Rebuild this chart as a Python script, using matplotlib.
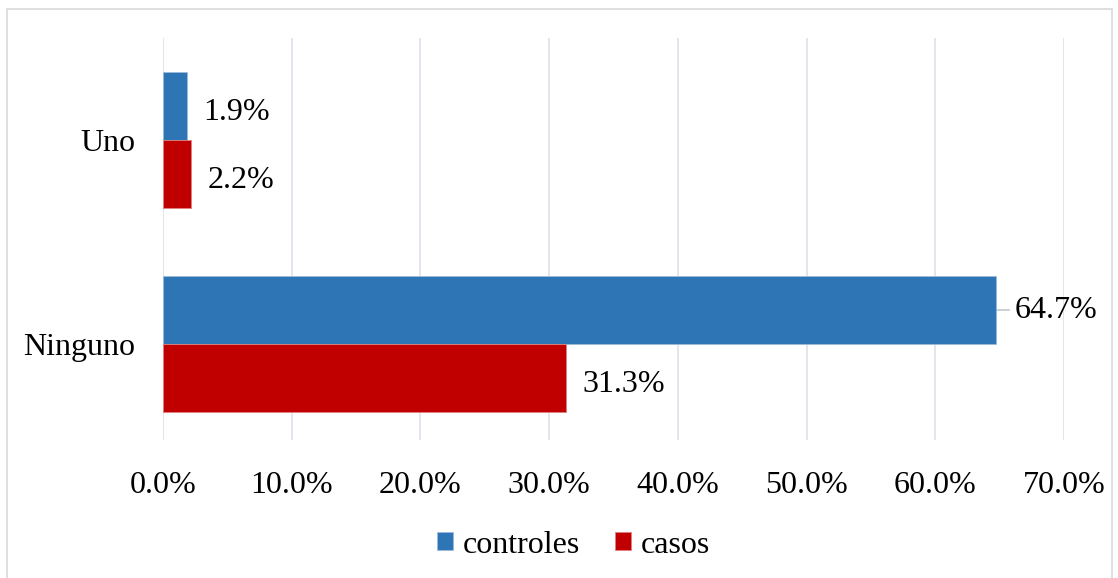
import matplotlib
matplotlib.use('Agg')
import matplotlib.pyplot as plt
from matplotlib.patches import Rectangle
import numpy as np

plt.rcParams['font.family'] = ['Liberation Serif', 'DejaVu Serif']

categorias = ['Ninguno', 'Uno']
controles = [64.7, 1.9]
casos = [31.3, 2.2]
series = ['controles', 'casos']
colores = ['#2E75B6', '#C00000']
xticks = [0, 10, 20, 30, 40, 50, 60, 70]

fig = plt.figure(figsize=(11.18, 5.78), dpi=100)
ax = fig.add_axes([0.1458, 0.2388, 0.8059, 0.6955])

# marco exterior del grafico
fig.patches.append(Rectangle((7 / 1118, -0.01), 1105 / 1118, 1 - 9 / 578 + 0.01,
                             transform=fig.transFigure, fill=False,
                             edgecolor='#d9d9d9', linewidth=1.2))

y = np.arange(len(categorias))
h = 0.333
b1 = ax.barh(y + h / 2, controles, height=h, color=colores[0], label=series[0],
             edgecolor='#9dbbdb', linewidth=0.6, zorder=3)
b2 = ax.barh(y - h / 2, casos, height=h, color=colores[1], label=series[1],
             edgecolor='#e08080', linewidth=0.6, zorder=3)

for barras, vals in ((b1, controles), (b2, casos)):
    for r, v in zip(barras, vals):
        yc = r.get_y() + r.get_height() / 2
        if v > 60:
            ax.plot([v, v + 1.0], [yc, yc], color='#bfc8d4', lw=1.2, zorder=2)
            ax.text(v + 1.5, yc, f'{v:.1f}%', va='center', ha='left', fontsize=23)
        else:
            ax.text(v + 1.25, yc - 0.03, f'{v:.1f}%', va='center', ha='left', fontsize=23)

ax.set_xlim(0, 70)
ax.set_ylim(-0.47, 1.5)
ax.set_xticks(xticks)
ax.set_xticklabels([f'{t:.1f}%' for t in xticks], fontsize=23)
ax.set_yticks(y)
ax.set_yticklabels(categorias, fontsize=23)
ax.tick_params(length=0, pad=22)
ax.tick_params(axis='y', pad=20)
ax.grid(axis='x', color='#dde2e9', linewidth=1.2, zorder=0)
for s in ax.spines.values():
    s.set_visible(False)

leg = fig.legend(loc='center', bbox_to_anchor=(0.513, 0.057), ncol=2, frameon=False,
                 fontsize=23, handlelength=0.5, handleheight=0.5, handletextpad=0.3,
                 columnspacing=1.1)

fig.savefig('out.png', dpi=100)
